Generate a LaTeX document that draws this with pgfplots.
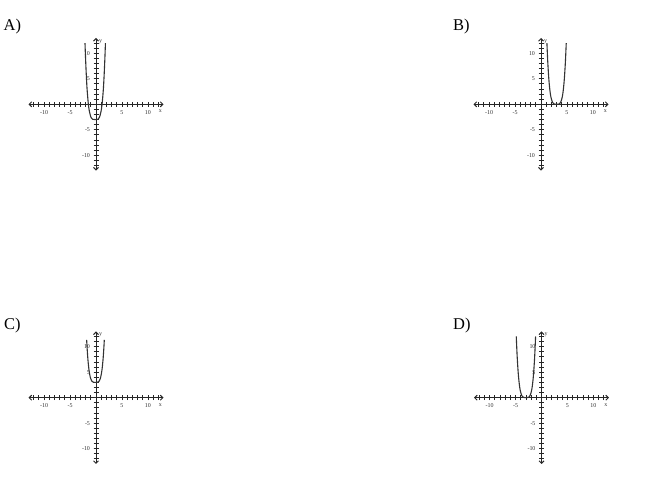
\documentclass[border=0pt]{standalone}
\usepackage{fontspec}
\setmainfont{Liberation Serif}
\usepackage{pgfplots}
\pgfplotsset{compat=1.18}
\usetikzlibrary{arrows.meta}

\pgfplotsset{
  quad/.style={
    axis lines=middle,
    scale only axis,
    width=135bp, height=132.6bp,
    xmin=-13, xmax=13, ymin=-13, ymax=13,
    enlargelimits=false,
    anchor=origin,
    axis line style={line width=1bp, black!85,
      {Straight Barb[length=2.5bp,width=5bp]}-{Straight Barb[length=2.5bp,width=5bp]}},
    xtick={-10,-5,5,10}, ytick={-10,-5,5,10},
    xticklabels={-10,-5,5,10}, yticklabels={-10,-5,5,10},
    minor xtick={-12,...,-1,1,2,...,12}, minor ytick={-12,...,-1,1,2,...,12},
    tick align=center, major tick length=5bp, minor tick length=5bp,
    tick style={line width=0.8bp, black!85},
    ticklabel style={font=\fontsize{6}{7}\selectfont, text=black!80},
    clip=false,
  },
  curve/.style={line width=1.1bp, black!80, smooth},
}
\newcommand{\axnames}{%
  \node[font=\fontsize{6}{7}\selectfont, text=black!80] at (axis cs:12.4,-1.4) {x};
  \node[font=\fontsize{6}{7}\selectfont, text=black!80] at (axis cs:0.9,12.3) {y};
}

\begin{document}
\begin{tikzpicture}
\path[use as bounding box] (0,0) rectangle (650bp,477bp);

\node[anchor=base west, inner sep=0, font=\fontsize{16.5}{20}\selectfont] at (3.5bp,446.3bp) {A)};
\node[anchor=base west, inner sep=0, font=\fontsize{16.5}{20}\selectfont] at (453bp,446.3bp) {B)};
\node[anchor=base west, inner sep=0, font=\fontsize{16.5}{20}\selectfont] at (4bp,147.5bp) {C)};
\node[anchor=base west, inner sep=0, font=\fontsize{16.5}{20}\selectfont] at (453bp,147.5bp) {D)};

% A
\begin{axis}[quad, at={(96bp,372.7bp)}]
\addplot[curve] coordinates {
(-2.12,12) (-2.01,9) (-1.88,6) (-1.72,3) (-1.47,0) (-1.25,-1.5) (-0.95,-2.6)
(-0.65,-2.94) (-0.15,-3) (0.35,-2.94) (0.65,-2.6) (0.95,-1.5) (1.17,0)
(1.42,3) (1.58,6) (1.71,9) (1.82,12)
};
\axnames
\end{axis}

% B
\begin{axis}[quad, at={(541bp,372.7bp)}]
\addplot[curve] coordinates {
(1.14,12) (1.3,8.35) (1.5,5.06) (1.7,2.86) (1.9,1.46) (2.2,0.41) (2.5,0.06)
(3,0) (3.5,0.06) (3.8,0.41) (4.1,1.46) (4.3,2.86) (4.5,5.06) (4.7,8.35) (4.86,12)
};
\axnames
\end{axis}

% C
\begin{axis}[quad, at={(96bp,79.3bp)}]
\addplot[curve] coordinates {
(-1.8,11.35) (-1.7,9.55) (-1.55,7.42) (-1.35,5.44) (-1.1,4) (-0.8,3.24) (-0.5,3.03)
(-0.1,3) (0.3,3.03) (0.6,3.24) (0.9,4) (1.15,5.44) (1.35,7.42) (1.5,9.55) (1.6,11.35)
};
\axnames
\end{axis}

% D
\begin{axis}[quad, at={(541.5bp,79.3bp)}]
\addplot[curve] coordinates {
(-4.86,12) (-4.7,8.35) (-4.5,5.06) (-4.3,2.86) (-4.1,1.46) (-3.8,0.41) (-3.5,0.06)
(-3,0) (-2.5,0.06) (-2.2,0.41) (-1.9,1.46) (-1.7,2.86) (-1.5,5.06) (-1.3,8.35) (-1.14,12)
};
\axnames
\end{axis}
\end{tikzpicture}
\end{document}
